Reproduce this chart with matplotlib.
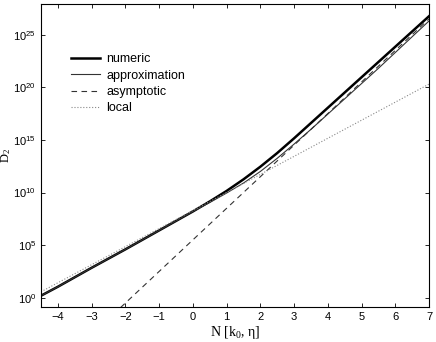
import numpy as np
import matplotlib
matplotlib.use("Agg")
import matplotlib.pyplot as plt
from matplotlib.ticker import FixedLocator, NullLocator, LogFormatterSciNotation

plt.rcParams['font.family'] = ['Liberation Sans', 'DejaVu Sans']
plt.rcParams['mathtext.default'] = 'regular'

# values (N, log10 D_2)
n_num = [-4.5, -4, -3, -2, -1, -0.5, 0, 0.5, 1, 1.5, 2, 2.5, 3, 3.5, 4, 4.5, 5, 5.5, 6, 6.5, 7]
logd_num = [0.2, 1.05, 2.85, 4.6, 6.4, 7.3, 8.2, 9.15, 10.15, 11.25, 12.45, 13.75, 15.15, 16.6,
            18.05, 19.5, 20.95, 22.4, 23.85, 25.3, 26.75]

n_app = [-4.5, -4, -3, -2, -1, -0.5, 0, 0.5, 1, 1.5, 2, 2.5, 3, 3.5, 4, 4.5, 5, 5.5, 6, 6.5, 7]
logd_app = [0.2, 1.05, 2.85, 4.6, 6.4, 7.3, 8.2, 9.05, 9.95, 10.9, 12.0, 13.25, 14.6, 16.0,
            17.45, 18.9, 20.35, 21.8, 23.3, 24.8, 26.3]

n_asy = [-2.14, 7]
logd_asy = [-0.92, 26.5]

n_loc = [-4.5, 7]
logd_loc = [0.57, 20.3]

ytick_exp = [0, 5, 10, 15, 20, 25]
xticks = [-4, -3, -2, -1, 0, 1, 2, 3, 4, 5, 6, 7]

fig = plt.figure(figsize=(4.36, 3.42), dpi=100)
ax = fig.add_axes([0.094, 0.1015, 0.89, 0.8865])

ax.plot(n_num, 10.0**np.array(logd_num), color='black', lw=1.8, label='numeric')
ax.plot(n_app, 10.0**np.array(logd_app), color='#333333', lw=0.8, label='approximation')
ax.plot(n_asy, 10.0**np.array(logd_asy), color='#333333', lw=0.8, dashes=(5, 4), label='asymptotic')
ax.plot(n_loc, 10.0**np.array(logd_loc), color='#888888', lw=0.8, ls=':', label='local')

ax.set_yscale('log')
ax.set_xlim(-4.5, 7)
ax.set_ylim(10**-0.9, 10**27.9)
ax.yaxis.set_major_locator(FixedLocator([10.0**e for e in ytick_exp]))
ax.yaxis.set_major_formatter(LogFormatterSciNotation())
ax.yaxis.set_minor_locator(NullLocator())
ax.set_xticks(xticks)
ax.set_xticklabels([str(t).replace('-', '\u2212') for t in xticks])
ax.tick_params(direction='in', top=True, right=True, labelsize=8, length=3, width=0.6)
for s in ax.spines.values():
    s.set_linewidth(0.8)

ax.set_xlabel('N [k$_0$, \u03b7]', family=['Liberation Serif', 'DejaVu Serif'], fontsize=10, labelpad=1)
ax.set_ylabel('D$_2$', family=['Liberation Serif', 'DejaVu Serif'], fontsize=9)
ax.yaxis.set_label_coords(-0.072, 0.5)

ax.legend(loc='upper left', bbox_to_anchor=(0.048, 0.875), frameon=False, fontsize=9,
          handlelength=2.3, handletextpad=0.55, labelspacing=0.35)

fig.savefig('out.png', dpi=100)
